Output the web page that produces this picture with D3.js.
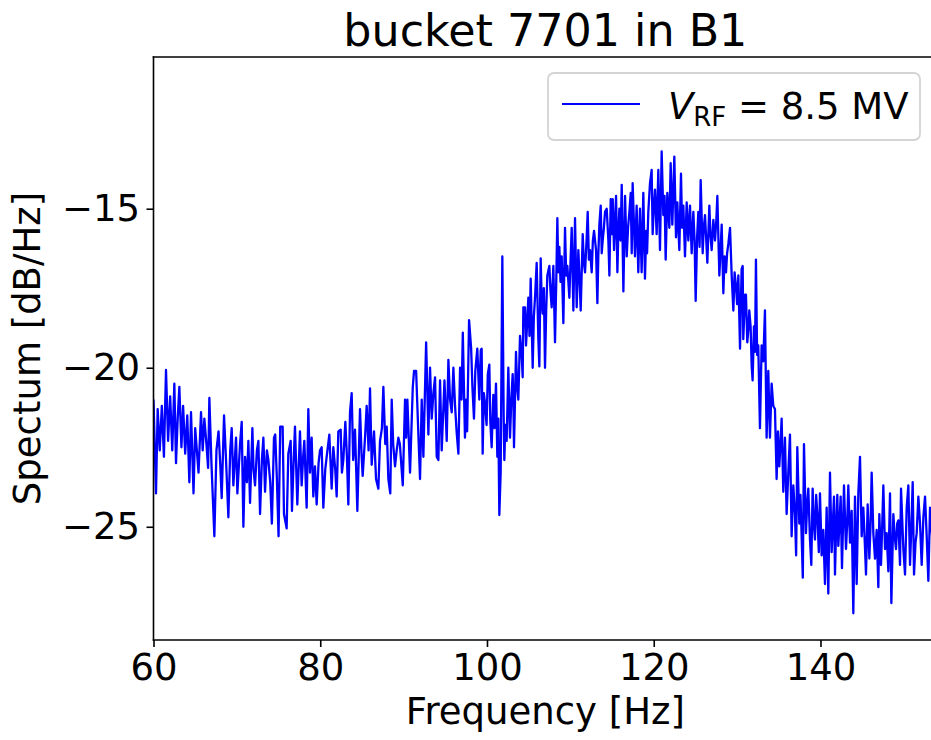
<!DOCTYPE html>
<html><head><meta charset="utf-8">
<script src="https://cdn.jsdelivr.net/npm/d3@7/dist/d3.min.js"></script>
<style>body{margin:0;background:#fff;} text{font-family:"DejaVu Sans",sans-serif;fill:#000;}</style>
</head><body>
<script>
// ---- data ----
const freq = [
60.00,60.30,60.50,60.75,61.00,61.25,61.50,61.75,62.00,62.25,62.50,62.70,62.90,63.10,63.35,63.55,63.80,64.05,64.30,64.50,64.80,
65.00,65.20,65.40,65.70,65.90,66.10,66.35,66.55,66.70,66.95,67.30,67.55,67.80,68.00,68.18,68.46,68.70,68.98,69.20,69.38,69.58,69.90,
70.06,70.38,70.58,70.78,70.98,71.20,71.38,71.58,71.86,72.00,72.18,72.40,72.58,72.78,73.00,73.18,73.38,73.60,73.78,74.00,74.20,74.45,74.60,74.80,
75.00,75.20,75.49,75.65,75.97,76.17,76.45,76.61,76.80,76.97,77.25,77.57,77.77,77.95,78.09,78.37,78.57,78.77,78.97,79.17,79.37,79.57,79.80,79.97,
80.17,80.37,80.60,80.77,81.09,81.37,81.57,81.80,81.97,82.17,82.45,82.60,82.77,83.01,83.20,83.37,83.57,83.77,83.95,84.17,84.30,84.45,84.77,84.95,
85.09,85.37,85.57,85.80,85.97,86.17,86.45,86.69,86.97,87.17,87.40,87.57,87.80,87.97,88.17,88.40,88.57,88.75,88.97,89.17,89.37,89.55,89.90,
90.17,90.30,90.45,90.77,91.10,91.25,91.50,91.77,91.97,92.17,92.37,92.70,92.97,93.17,93.37,93.57,93.77,93.97,94.17,94.37,94.57,94.90,
95.17,95.37,95.57,95.77,95.97,96.17,96.37,96.57,96.77,96.95,97.10,97.36,97.50,97.62,97.85,98.10,98.25,98.44,98.60,98.84,99.08,99.25,99.36,99.48,99.62,99.76,99.95,
100.10,100.28,100.40,100.56,100.76,100.90,101.08,101.24,101.36,101.48,101.64,101.84,102.00,102.08,102.20,102.36,102.56,102.76,102.92,103.08,103.16,103.24,103.48,103.62,103.76,103.96,
104.16,104.28,104.36,104.56,104.68,104.76,104.96,105.10,105.24,105.36,105.48,105.62,105.76,105.96,106.16,106.28,106.44,106.56,106.68,106.82,106.96,
107.10,107.24,107.48,107.62,107.76,107.96,108.16,108.30,108.44,108.56,108.68,108.82,108.96,109.16,109.36,109.50,109.64,109.88,
110.00,110.16,110.36,110.56,110.76,110.96,111.10,111.24,111.48,111.62,111.76,111.96,112.08,112.22,112.36,112.56,112.70,112.84,113.08,113.24,113.36,113.48,113.64,113.76,113.88,
114.02,114.16,114.36,114.56,114.68,114.84,114.96,115.08,115.24,115.36,115.48,115.64,115.76,115.88,116.02,116.16,116.36,116.56,116.76,116.92,117.08,117.24,117.36,117.47,117.62,117.75,117.95,
118.15,118.35,118.55,118.75,118.95,119.10,119.20,119.35,119.55,119.75,119.87,120.00,120.15,120.35,120.55,120.75,120.95,121.15,121.30,121.43,121.63,121.87,
122.03,122.23,122.47,122.67,122.83,122.95,123.07,123.27,123.40,123.55,123.75,123.95,124.15,124.35,124.55,124.75,124.90,125.03,125.20,125.35,125.50,125.63,125.87,
126.00,126.15,126.30,126.43,126.67,126.80,126.95,127.15,127.35,127.50,127.63,127.87,128.00,128.15,128.35,128.50,128.67,128.80,128.95,129.15,129.35,129.55,129.70,129.87,
130.00,130.15,130.35,130.54,130.67,130.74,130.95,131.06,131.22,131.35,131.46,131.62,131.75,131.86,132.02,132.15,132.26,132.40,132.54,132.74,132.94,133.14,133.34,133.54,133.74,133.94,
134.14,134.34,134.54,134.74,134.90,135.06,135.20,135.34,135.54,135.74,135.94,136.14,136.34,136.54,136.74,136.94,137.08,137.22,137.46,137.60,137.74,137.88,
138.02,138.26,138.40,138.54,138.74,138.90,139.06,139.20,139.34,139.48,139.62,139.80,139.94,140.14,140.34,140.54,140.74,140.94,141.14,141.34,141.50,141.62,141.74,141.88,
142.02,142.14,142.28,142.42,142.58,142.82,142.95,143.06,143.20,143.34,143.54,143.74,143.94,144.14,144.34,144.54,144.74,144.94,145.14,145.30,145.46,145.66,145.86,
146.00,146.14,146.34,146.54,146.74,146.94,147.06,147.26,147.40,147.54,147.74,147.94,148.14,148.34,148.50,148.74,148.90,149.06,149.20,149.34,149.54,149.66,149.94,
150.14,150.34,150.54,150.74,150.90,151.06,151.22,151.40,151.54,151.74,151.94,152.14,152.34,152.54,152.74,152.94,153.14,153.30,153.50,153.80
];
const spectrum = [
-21.0,-23.95,-21.3,-22.6,-21.2,-22.8,-20.07,-22.3,-20.9,-22.6,-20.5,-23.0,-21.6,-20.6,-22.5,-21.2,-22.7,-21.5,-23.6,-21.4,-23.95,
-21.9,-22.6,-23.3,-21.4,-22.6,-21.6,-22.4,-23.15,-20.95,-23.0,-25.3,-22.6,-22.0,-23.0,-24.1,-21.5,-22.9,-24.7,-22.6,-21.9,-23.7,-22.2,
-23.95,-22.4,-21.7,-25.0,-22.8,-23.6,-22.3,-24.25,-21.9,-23.2,-23.7,-22.6,-22.3,-24.6,-22.9,-22.2,-23.9,-22.6,-22.9,-23.6,-24.9,-22.2,-22.1,-23.5,
-25.3,-21.85,-21.85,-24.6,-25.05,-22.7,-22.3,-24.5,-23.0,-21.85,-24.3,-22.0,-23.7,-22.8,-22.3,-24.4,-21.3,-23.3,-22.2,-24.05,-23.1,-24.3,-23.0,-22.6,
-22.5,-24.4,-23.2,-22.8,-22.1,-23.8,-22.5,-23.2,-24.05,-22.0,-21.95,-23.3,-22.9,-21.7,-22.8,-24.3,-21.4,-20.8,-22.9,-21.95,-23.1,-24.5,-21.3,-22.7,
-23.4,-22.2,-21.2,-22.6,-20.65,-23.05,-22.0,-23.5,-23.8,-22.3,-21.9,-20.6,-22.4,-21.85,-23.5,-23.95,-21.0,-22.4,-23.1,-22.6,-22.2,-22.4,-23.7,
-21.0,-22.2,-21.0,-23.3,-20.6,-20.1,-20.1,-22.1,-23.5,-21.0,-22.8,-19.2,-22.1,-20.0,-21.6,-20.8,-20.3,-22.8,-22.9,-20.4,-22.6,-20.4,
-22.3,-19.75,-21.0,-21.4,-20.0,-21.2,-22.06,-22.7,-20.0,-21.0,-18.9,-22.2,-21.0,-22.0,-18.5,-19.4,-20.6,-21.6,-20.1,-19.4,-21.0,-19.45,-19.4,-22.7,-20.8,-21.1,-21.8,
-20.2,-19.9,-21.7,-22.5,-20.85,-21.9,-20.5,-22.8,-21.6,-24.63,-23.3,-16.5,-21.5,-22.9,-21.8,-22.3,-20.0,-22.2,-21.0,-20.2,-20.9,-22.5,-19.5,-20.6,-21.0,-19.0,
-19.6,-20.3,-18.1,-18.1,-19.3,-18.9,-17.8,-19.0,-17.2,-18.6,-20.0,-18.4,-17.8,-16.7,-19.1,-19.96,-16.56,-17.9,-18.3,-17.5,-20.0,
-18.2,-17.1,-16.8,-17.6,-18.1,-16.8,-19.2,-17.4,-15.3,-17.0,-16.2,-17.3,-16.5,-18.6,-15.6,-17.1,-16.8,-17.8,
-16.8,-15.6,-18.2,-15.3,-18.1,-16.3,-17.2,-18.2,-15.8,-16.7,-17.0,-15.9,-15.1,-16.6,-16.3,-17.0,-16.0,-15.7,-16.3,-17.97,-16.4,-15.5,-14.9,-16.4,-16.0,
-15.6,-15.1,-15.0,-16.0,-17.1,-14.7,-15.8,-14.7,-16.3,-15.4,-14.6,-17.0,-15.7,-15.0,-16.0,-14.25,-17.6,-14.6,-16.5,-15.6,-15.1,-14.5,-16.4,-14.2,-15.4,-16.5,-14.9,
-17.0,-15.0,-17.0,-14.5,-17.2,-15.7,-16.4,-15.1,-14.2,-13.78,-15.8,-15.0,-14.4,-15.8,-13.78,-16.3,-13.2,-15.2,-14.6,-16.6,-14.5,-15.6,
-13.57,-15.5,-13.36,-15.9,-14.8,-15.6,-16.3,-13.9,-15.6,-14.9,-16.5,-14.8,-16.0,-14.9,-16.4,-15.1,-16.0,-17.9,-15.9,-15.1,-16.2,-14.1,-16.4,
-15.6,-15.2,-16.0,-16.7,-14.9,-15.8,-16.3,-15.35,-16.0,-15.4,-14.6,-17.1,-16.4,-15.5,-17.66,-16.5,-17.0,-16.4,-16.1,-15.6,-17.1,-18.2,-17.0,-17.45,
-18.0,-17.1,-19.4,-16.9,-16.8,-19.1,-17.7,-17.7,-19.2,-18.8,-18.2,-18.7,-19.96,-20.4,-18.7,-19.5,-16.6,-19.6,-19.3,-21.9,-19.3,-19.8,-18.2,-22.2,-20.1,-22.2,
-20.5,-21.2,-21.3,-23.5,-22.0,-23.1,-22.4,-21.6,-23.9,-22.2,-24.6,-23.3,-22.1,-25.3,-23.7,-24.6,-25.9,-22.5,-24.9,-24.0,-25.3,-26.6,
-22.4,-25.2,-24.3,-23.8,-25.4,-26.2,-23.8,-24.9,-25.4,-24.0,-24.6,-25.8,-23.95,-25.9,-25.1,-26.8,-24.4,-27.1,-23.3,-25.8,-24.8,-24.05,-26.5,-25.0,
-24.0,-25.6,-24.9,-24.05,-26.3,-23.7,-24.8,-25.7,-24.9,-23.7,-25.5,-24.5,-27.72,-24.05,-26.8,-23.95,-22.8,-25.3,-24.4,-25.4,-26.5,-24.3,-26.0,
-25.0,-23.3,-25.2,-26.0,-25.1,-26.9,-24.6,-26.2,-25.0,-23.7,-25.7,-25.2,-26.4,-23.95,-27.4,-24.6,-25.3,-25.7,-24.9,-24.8,-26.2,-23.8,-25.7,
-26.5,-24.4,-23.7,-26.2,-25.0,-23.6,-26.5,-25.5,-25.2,-24.05,-24.9,-26.2,-24.7,-24.05,-25.3,-26.7,-24.4,-25.0,-25.6,-24.6
];
const xTicks = [60, 80, 100, 120, 140];
const yTicks = [-25, -20, -15];
const xDomain = [60, 154];
const yDomain = [-28.56, -10.23];
const titleText = "bucket 7701 in B1";
const xLabelText = "Frequency [Hz]";
const yLabelText = "Spectum [dB/Hz]";
const legendValue = " = 8.5 MV";

// ---- drawing ----
const W = 931, H = 740;
const P = {left: 153.5, right: 937.2, top: 57, bottom: 640};
const FS = 37;

const svg = d3.select("body").append("svg").attr("width", W).attr("height", H);

const x = d3.scaleLinear().domain(xDomain).range([P.left, P.right]);
const y = d3.scaleLinear().domain(yDomain).range([P.bottom, P.top]);

svg.append("defs").append("clipPath").attr("id", "clip")
  .append("rect").attr("x", P.left).attr("y", P.top)
  .attr("width", P.right - P.left).attr("height", P.bottom - P.top);

const data = freq.map((f, i) => ({f, v: spectrum[i]}));
const line = d3.line().x(d => x(d.f)).y(d => y(d.v));

svg.append("path").datum(data)
  .attr("clip-path", "url(#clip)")
  .attr("d", line)
  .attr("fill", "none")
  .attr("stroke", "#0000ff")
  .attr("stroke-width", 2.3)
  .attr("stroke-linejoin", "round");

const minus = d => (d < 0 ? "\u2212" : "") + Math.abs(d);

const gx = svg.append("g").attr("transform", `translate(0,${P.bottom})`)
  .call(d3.axisBottom(x).tickValues(xTicks).tickSize(7).tickPadding(7).tickFormat(d => d));
const gy = svg.append("g").attr("transform", `translate(${P.left},0)`)
  .call(d3.axisLeft(y).tickValues(yTicks).tickSize(7).tickPadding(6.5).tickFormat(minus));
[gx, gy].forEach(g => {
  g.select(".domain").remove();
  g.selectAll(".tick line").attr("stroke", "#000").attr("stroke-width", 1.6);
  g.selectAll(".tick text").attr("font-size", FS).attr("font-family", "DejaVu Sans").attr("fill", "#000");
});

// spines
const spine = (x1, y1, x2, y2) => svg.append("line").attr("x1", x1).attr("y1", y1).attr("x2", x2).attr("y2", y2)
  .attr("stroke", "#000").attr("stroke-width", 1.6).attr("stroke-linecap", "square");
spine(P.left, P.top, P.left, P.bottom);
spine(P.left, P.bottom, P.right, P.bottom);
spine(P.left, P.top, P.right, P.top);
spine(P.right, P.top, P.right, P.bottom);

// title & labels
svg.append("text").attr("x", (P.left + P.right) / 2).attr("y", 46)
  .attr("text-anchor", "middle").attr("font-size", FS * 1.2).text(titleText);
svg.append("text").attr("x", (P.left + P.right) / 2).attr("y", 724)
  .attr("text-anchor", "middle").attr("font-size", FS).text(xLabelText);
svg.append("text").attr("transform", `translate(40,${(P.top + P.bottom) / 2}) rotate(-90)`)
  .attr("text-anchor", "middle").attr("font-size", FS).text(yLabelText);

// legend
const lg = svg.append("g");
lg.append("rect").attr("x", 548).attr("y", 73).attr("width", 372).attr("height", 67)
  .attr("rx", 6).attr("fill", "#fff").attr("fill-opacity", 0.8)
  .attr("stroke", "#d4d4d4").attr("stroke-width", 1.8);
lg.append("line").attr("x1", 562).attr("x2", 640).attr("y1", 104).attr("y2", 104)
  .attr("stroke", "#0000ff").attr("stroke-width", 2);
const lt = lg.append("text").attr("x", 668).attr("y", 119).attr("font-size", FS);
lt.append("tspan").attr("font-style", "italic").text("V");
lt.append("tspan").attr("font-size", FS * 0.7).attr("dy", 7).text("RF");
lt.append("tspan").attr("dy", -7).text(legendValue);
</script>
</body></html>
